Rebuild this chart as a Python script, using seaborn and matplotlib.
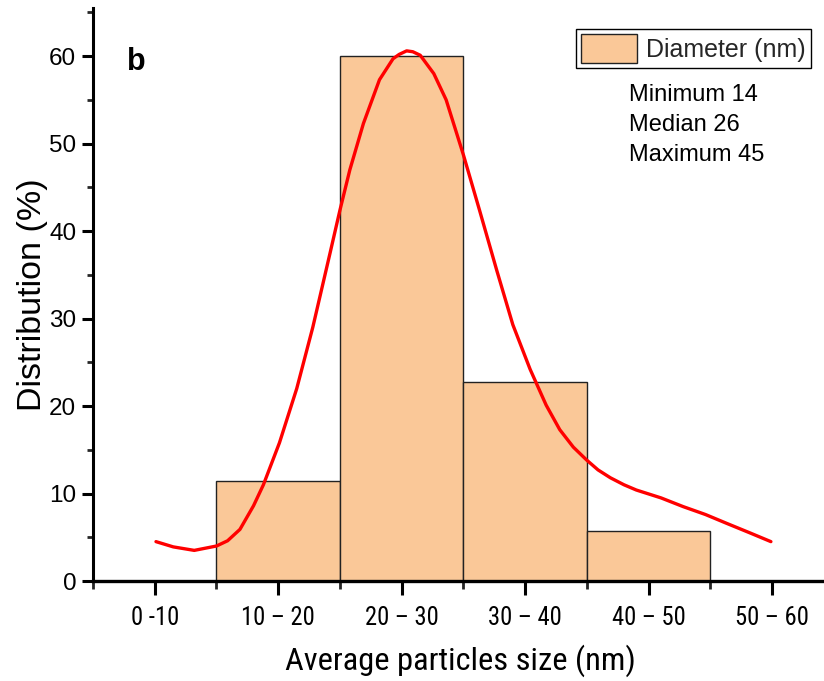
import matplotlib
matplotlib.use("Agg")
import matplotlib.pyplot as plt
import seaborn as sns
import pandas as pd
from matplotlib.patches import Patch
from matplotlib.ticker import MultipleLocator, FixedLocator

# ---- data ----
categories = ["0 -10", "10 \u2013 20", "20 \u2013 30", "30 \u2013 40", "40 \u2013 50", "50 \u2013 60"]
distribution = [0, 11.4, 60.0, 22.8, 5.7, 0]

curve_x = [0.01, 0.15, 0.32, 0.5, 0.59, 0.69, 0.80, 0.88, 1.01, 1.15, 1.28, 1.42,
           1.50, 1.58, 1.69, 1.82, 1.93, 1.98, 2.04, 2.09, 2.15, 2.26, 2.36, 2.50,
           2.63, 2.77, 2.90, 3.04, 3.17, 3.28, 3.39, 3.50, 3.59, 3.69, 3.80, 3.90,
           4.10, 4.28, 4.46, 4.63, 4.82, 4.99]
curve_y = [4.5, 3.9, 3.5, 4.0, 4.6, 5.9, 8.6, 11.0, 15.8, 22.0, 29.0, 37.5,
           42.4, 47.0, 52.3, 57.3, 59.7, 60.2, 60.6, 60.5, 60.1, 58.0, 55.0, 48.7,
           42.4, 35.5, 29.3, 24.2, 20.1, 17.3, 15.3, 13.8, 12.7, 11.8, 11.0, 10.4,
           9.5, 8.5, 7.6, 6.6, 5.5, 4.5]

stats_lines = ["Minimum 14", "Median 26", "Maximum 45"]
legend_label = "Diameter (nm)"

bar_color = "#FAC898"
line_color = "#FF0000"

sns.set_theme(style="white")
plt.rcParams["font.family"] = ["Liberation Sans", "DejaVu Sans"]
narrow = ["Roboto Condensed", "Liberation Sans", "DejaVu Sans"]

fig = plt.figure(figsize=(8.24, 6.81), dpi=100)
ax = fig.add_axes([93 / 824, 100 / 681, 731 / 824, 573 / 681])

df = pd.DataFrame({"cat": categories, "val": distribution})
sns.barplot(data=df, x="cat", y="val", order=categories, color=bar_color,
            saturation=1, width=1.0, edgecolor="#222222", linewidth=1.0, ax=ax)
sns.lineplot(x=curve_x, y=curve_y, color=line_color, linewidth=2.4, ax=ax)

ax.set_xlim(-0.5, 5.42)
ax.set_ylim(0, 65.5)

for s in ["top", "right"]:
    ax.spines[s].set_visible(False)
ax.spines["left"].set_linewidth(2.2)
ax.spines["bottom"].set_linewidth(2.4)
ax.spines["left"].set_color("black")
ax.spines["bottom"].set_color("black")

ax.yaxis.set_major_locator(MultipleLocator(10))
ax.yaxis.set_minor_locator(MultipleLocator(5))
ax.xaxis.set_major_locator(FixedLocator(list(range(len(categories)))))
ax.set_xticklabels(categories)
ax.xaxis.set_minor_locator(FixedLocator([i - 0.5 for i in range(len(categories))]))

ax.tick_params(axis="y", which="major", direction="out", length=8, width=2.2,
               left=True, pad=4, labelsize=17.5, colors="black")
ax.tick_params(axis="y", which="minor", direction="out", length=4, width=2.0, left=True)
ax.tick_params(axis="x", which="major", direction="out", length=10, width=2.2,
               bottom=True, pad=8, labelsize=17.7, colors="black")
ax.tick_params(axis="x", which="minor", direction="out", length=6, width=2.0, bottom=True)
for lab in ax.get_xticklabels():
    lab.set_family(narrow)

ax.set_xlabel("Average particles size (nm)", fontsize=23.4, family=narrow, color="black")
ax.set_ylabel("Distribution (%)", fontsize=24.5, color="black")
ax.xaxis.set_label_coords(0.502, -0.11)
ax.yaxis.set_label_coords(-0.061, 0.5)

leg = ax.legend(handles=[Patch(facecolor=bar_color, edgecolor="#222222", linewidth=1.0,
                               label=legend_label)],
                loc="upper right", bbox_to_anchor=(0.982, 0.963), borderaxespad=0,
                fontsize=18, frameon=True, fancybox=False, framealpha=1,
                edgecolor="black", handlelength=2.24, handleheight=1.4,
                handletextpad=0.36, borderpad=0.2)
leg.get_frame().set_linewidth(1.0)

ytops = [86, 116, 146]
for t, yp in zip(stats_lines, ytops):
    ax.text((629 - 93) / 731, (581 - yp) / 573 + 0.003, t, transform=ax.transAxes,
            fontsize=17, va="top", ha="left", color="black")

ax.text((127 - 93) / 731, (581 - 47) / 573, "b", transform=ax.transAxes,
        fontsize=22, fontweight="bold", va="top", ha="left", color="black")

fig.savefig("out.png", dpi=100)
